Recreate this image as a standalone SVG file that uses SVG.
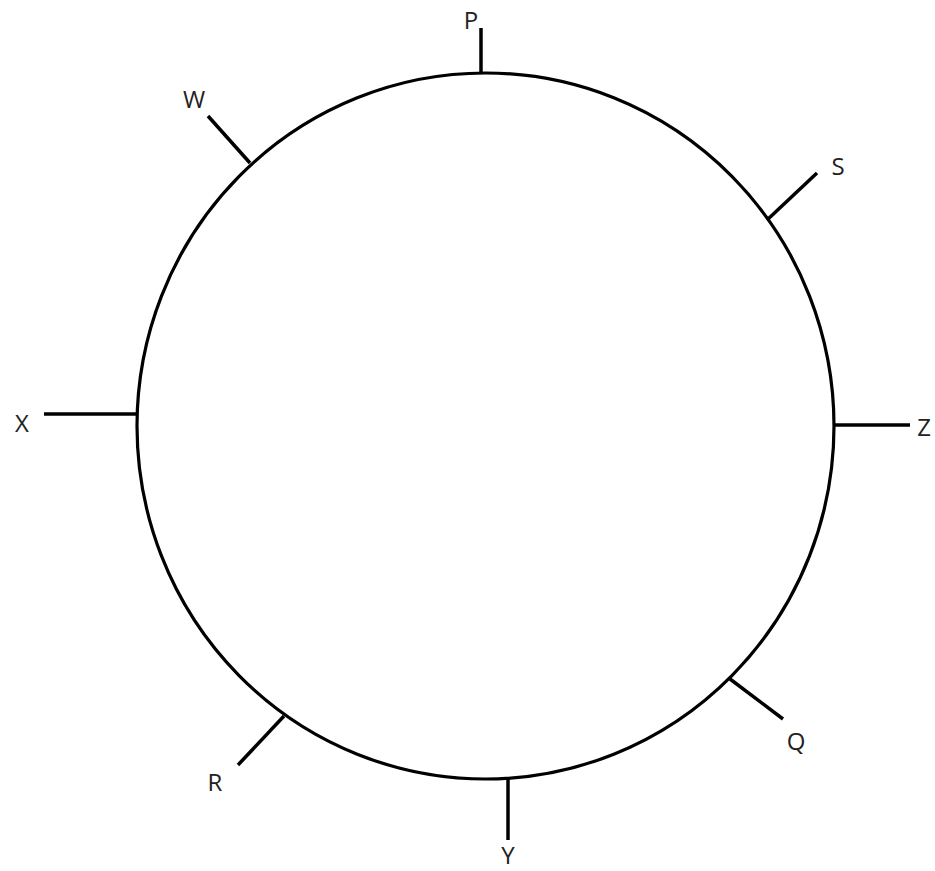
<svg xmlns="http://www.w3.org/2000/svg" width="935" height="871" viewBox="0 0 935 871">
<style>
.ring{fill:none;stroke:#000;stroke-width:3.2}
.tick{stroke:#000;stroke-width:3.5;stroke-linecap:butt}
.lbl{font-family:"Open Sans","Liberation Sans",sans-serif;font-size:24px;fill:#222;text-anchor:middle}
</style>
<rect width="935" height="871" fill="#fff"/>
<g id="circle">
<ellipse class="ring" cx="485.5" cy="426" rx="348.5" ry="353"/>
</g>
<g id="connectors">
<line class="tick" x1="481" y1="28" x2="481" y2="74"/>
<line class="tick" x1="208" y1="116" x2="250" y2="163"/>
<line class="tick" x1="817" y1="173" x2="767" y2="220"/>
<line class="tick" x1="44" y1="414" x2="137" y2="414"/>
<line class="tick" x1="834" y1="425" x2="910" y2="425"/>
<line class="tick" x1="730" y1="679" x2="783" y2="719"/>
<line class="tick" x1="238" y1="765" x2="284" y2="716"/>
<line class="tick" x1="508" y1="778" x2="508" y2="840"/>
</g>
<g id="node-P"><text class="lbl" x="471" y="29">P</text></g>
<g id="node-W"><text class="lbl" x="194" y="108">W</text></g>
<g id="node-S"><text class="lbl" x="838" y="175">S</text></g>
<g id="node-X"><text class="lbl" x="22" y="432">X</text></g>
<g id="node-Z"><text class="lbl" x="924" y="436">Z</text></g>
<g id="node-Q"><text class="lbl" x="796" y="750">Q</text></g>
<g id="node-R"><text class="lbl" x="215" y="791">R</text></g>
<g id="node-Y"><text class="lbl" x="508" y="864">Y</text></g>
</svg>
